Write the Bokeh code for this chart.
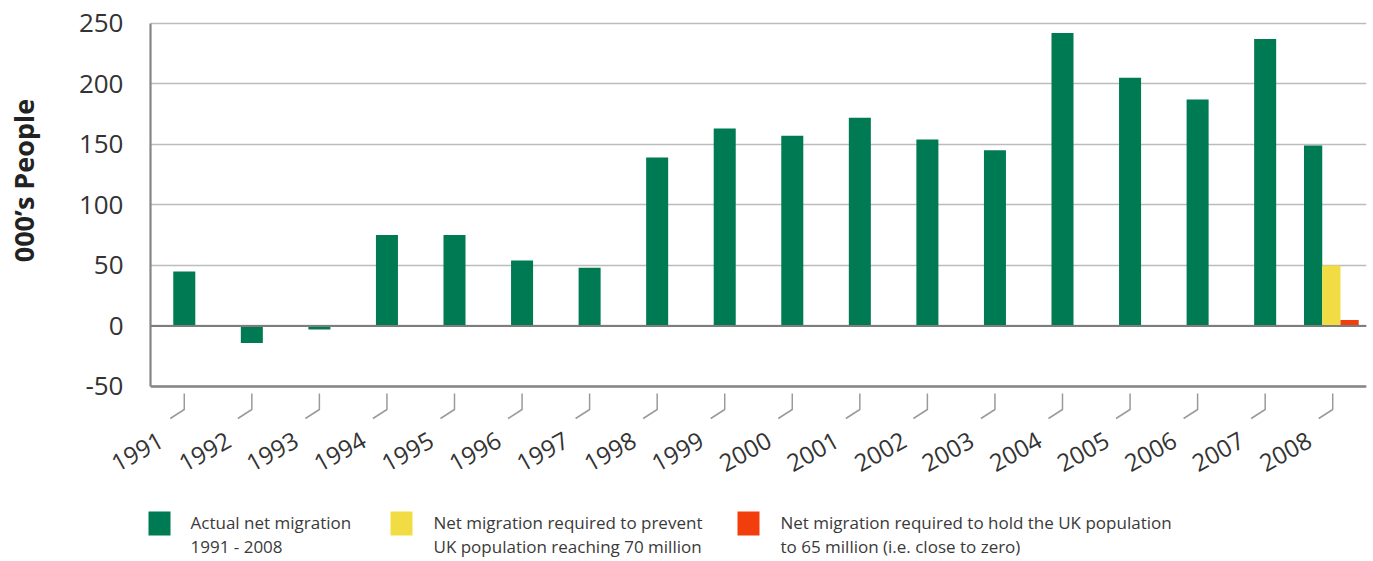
import math
from bokeh.plotting import figure
from bokeh.models import Range1d, FixedTicker, Span
from bokeh.layouts import column, row
from bokeh.core.properties import value
from bokeh.embed import file_html
from bokeh.resources import INLINE

# ---- data ----
years = ["1991", "1992", "1993", "1994", "1995", "1996", "1997", "1998", "1999",
         "2000", "2001", "2002", "2003", "2004", "2005", "2006", "2007", "2008"]
actual = [45, -14, -3, 75, 75, 54, 48, 139, 163, 157, 172, 154, 145, 242, 205, 187, 237, 149]
prevent_70m_year = "2008"
prevent_70m = [50]
hold_65m_year = "2008"
hold_65m = [5]
y_ticks = [-50, 0, 50, 100, 150, 200, 250]
y_tick_text = ["-50", "0", "50", "100", "150", "200", "250"]
y_title = "000\u2019s People"

legend_labels = [
    ["Actual net migration", "1991 - 2008"],
    ["Net migration required to prevent", "UK population reaching 70 million"],
    ["Net migration required to hold the UK population", "to 65 million (i.e. close to zero)"],
]

GREEN = "#007a53"
YELLOW = "#f2dc44"
RED = "#f23d0c"
FONT = "Open Sans"

n = len(years)
idx = list(range(n))
last = years.index(prevent_70m_year)

W = 1373
TW = 50          # width of the strip holding the y-axis title
LEFT = 150       # frame left edge on the page
RIGHT = 7
TOP_H = 494
FRAME_H = 420
PX = 1.211       # px per unit on y

# ---- y-axis title strip ----
tf = figure(width=TW, height=TOP_H, output_backend="svg", toolbar_location=None,
            x_range=Range1d(0, TW), y_range=Range1d(0, FRAME_H),
            x_axis_location=None, y_axis_location=None,
            min_border_left=0, min_border_right=0, min_border_top=0,
            min_border_bottom=TOP_H - FRAME_H)
tf.outline_line_color = None
tf.grid.visible = False
tf.text(x=[23], y=[FRAME_H - 180], text=[y_title], angle=math.pi / 2,
        text_font=value(FONT), text_font_style="bold", text_font_size="27px",
        text_color="#222222", text_align="center", text_baseline="middle")

# ---- main chart ----
p = figure(width=W - TW, height=TOP_H, output_backend="svg", toolbar_location=None,
           x_range=Range1d(-0.5, n - 0.5), y_range=Range1d(-78.08, 268.74),
           min_border_left=LEFT - TW, min_border_right=RIGHT, min_border_top=0,
           min_border_bottom=TOP_H - FRAME_H)
p.outline_line_color = None
p.background_fill_color = "white"
p.border_fill_color = "white"

p.xgrid.visible = False
p.ygrid.ticker = FixedTicker(ticks=y_ticks)
p.ygrid.grid_line_color = "#bcbcbc"
p.ygrid.grid_line_width = 1.6

# bars
gw = 0.326
sw = 0.27
green_x = [i if i != last else i - 0.29 for i in idx]
green_w = [gw if i != last else sw for i in idx]
p.vbar(x=green_x, width=green_w, bottom=0, top=actual, fill_color=GREEN, line_color=None)
p.vbar(x=[years.index(prevent_70m_year) - 0.02], width=sw, bottom=0, top=prevent_70m,
       fill_color=YELLOW, line_color=None)
p.vbar(x=[years.index(hold_65m_year) + 0.25], width=sw, bottom=0, top=hold_65m,
       fill_color=RED, line_color=None)

p.add_layout(Span(location=0, dimension="width", line_color="#7d7d7d", line_width=2))
p.add_layout(Span(location=-50, dimension="width", line_color="#858585", line_width=2.6))

# leader lines for x labels
y_a = -50 - 7 / PX
y_b = -50 - 23 / PX
y_c = -50 - 32 / PX
dx = 14 / 67.5
p.multi_line(xs=[[i, i, i - dx] for i in idx], ys=[[y_a, y_b, y_c] for _ in idx],
             line_color="#9a9a9a", line_width=1.5)

# y axis
yax = p.yaxis[0]
yax.ticker = FixedTicker(ticks=y_ticks)
yax.major_label_overrides = dict(zip(y_ticks, y_tick_text))
yax.bounds = (-50, 250)
yax.axis_line_color = "#858585"
yax.axis_line_width = 2.2
yax.major_tick_line_color = None
yax.minor_tick_line_color = None
yax.major_tick_out = 0
yax.major_tick_in = 0
yax.major_label_standoff = 27
yax.major_label_text_font = FONT
yax.major_label_text_font_size = "26px"
yax.major_label_text_color = "#333333"

# x axis
xax = p.xaxis[0]
label_pos = [i - 0.34 for i in idx]
xax.ticker = FixedTicker(ticks=label_pos)
xax.major_label_overrides = {pos: yr for pos, yr in zip(label_pos, years)}
xax.axis_line_color = None
xax.major_tick_line_color = None
xax.minor_tick_line_color = None
xax.major_tick_out = 0
xax.major_tick_in = 0
xax.major_label_standoff = 18
xax.major_label_orientation = math.radians(29)
xax.major_label_text_font = FONT
xax.major_label_text_font_size = "24px"
xax.major_label_text_color = "#333333"

# ---- legend strip ----
LH = 561 - TOP_H
lg = figure(width=W, height=LH, output_backend="svg", toolbar_location=None,
            x_range=Range1d(0, W), y_range=Range1d(0, LH),
            x_axis_location=None, y_axis_location=None,
            min_border_left=0, min_border_right=0, min_border_top=0, min_border_bottom=0)
lg.outline_line_color = None
lg.grid.visible = False

box_left = [148, 390, 737]
text_left = [190, 433, 780]
colors = [GREEN, YELLOW, RED]
lg.rect(x=[b + 11 for b in box_left], y=38, width=22, height=24,
        fill_color=colors, line_color=None)
lg.text(x=text_left, y=39, text=[l[0] for l in legend_labels],
        text_font=value(FONT), text_font_size="17px", text_color="#3a3a3a",
        text_baseline="alphabetic", text_align="left")
lg.text(x=text_left, y=15, text=[l[1] for l in legend_labels],
        text_font=value(FONT), text_font_size="17px", text_color="#3a3a3a",
        text_baseline="alphabetic", text_align="left")

layout = column(row(tf, p, spacing=0), lg, spacing=0)
open("out.html", "w").write(file_html(layout, INLINE))
